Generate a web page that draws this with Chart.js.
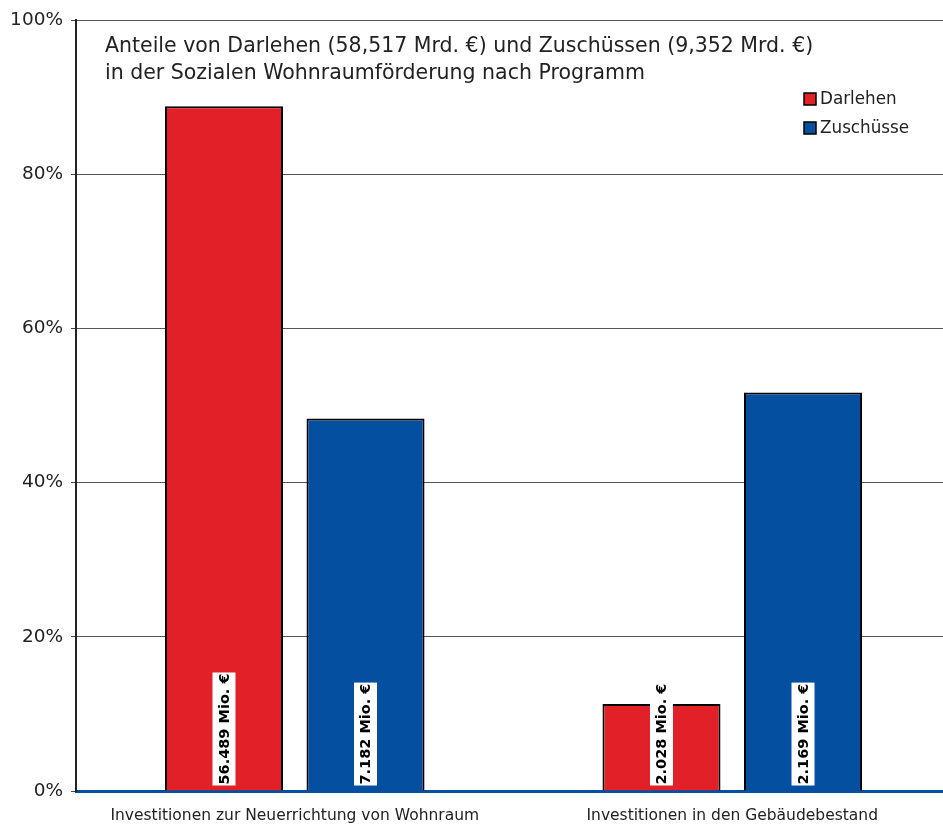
<!DOCTYPE html>
<html><head><meta charset="utf-8">
<script src="https://cdn.jsdelivr.net/npm/chart.js@4/dist/chart.umd.min.js"></script>
<style>
html,body{margin:0;padding:0;background:#fff;overflow:hidden;}
#wrap{width:951px;height:826px;position:relative;}
</style></head><body>
<div id="wrap"><canvas id="c" width="951" height="826"></canvas></div>
<script>
const categories = ["Investitionen zur Neuerrichtung von Wohnraum", "Investitionen in den Gebäudebestand"];
const darlehen = [88.8, 11.3];
const zuschuesse = [48.3, 51.7];
const darlehenLabels = ["56.489 Mio. €", "2.028 Mio. €"];
const zuschuesseLabels = ["7.182 Mio. €", "2.169 Mio. €"];
const titleLines = ["Anteile von Darlehen (58,517 Mrd. €) und Zuschüssen (9,352 Mrd. €)", "in der Sozialen Wohnraumförderung nach Programm"];
const yTicks = [0, 20, 40, 60, 80, 100];

const RED = '#e22027', BLUE = '#054fa1';
const FONT = '"DejaVu Sans", sans-serif';

const overlay = {
  id: 'overlay',
  afterDatasetsDraw(chart) {
    const ctx = chart.ctx;
    const labels = [darlehenLabels, zuschuesseLabels];
    chart.data.datasets.forEach((ds, di) => {
      const meta = chart.getDatasetMeta(di);
      meta.data.forEach((bar, i) => {
        const txt = labels[di][i];
        ctx.save();
        ctx.translate(bar.x, bar.base - 6);
        ctx.rotate(-Math.PI / 2);
        ctx.font = 'bold 14.5px ' + FONT;
        const w = ctx.measureText(txt).width;
        ctx.fillStyle = '#fff';
        ctx.fillRect(-1, -11.5, w + 2, 23);
        ctx.fillStyle = '#000';
        ctx.textAlign = 'left';
        ctx.textBaseline = 'middle';
        ctx.fillText(txt, 0, 1);
        ctx.restore();
      });
    });
  },
  afterDraw(chart) {
    const ctx = chart.ctx;
    ctx.save();
    ctx.fillStyle = '#222';
    ctx.font = '20.5px ' + FONT;
    ctx.textBaseline = 'middle';
    ctx.textAlign = 'left';
    ctx.fillText(titleLines[0], 105, 47);
    ctx.fillText(titleLines[1], 105, 74);
    // legend
    const items = [["Darlehen", RED, 99], ["Zuschüsse", BLUE, 128]];
    ctx.font = '16.8px ' + FONT;
    items.forEach(([t, c, y]) => {
      ctx.fillStyle = c;
      ctx.fillRect(804, y - 6, 12, 12);
      ctx.strokeStyle = '#000';
      ctx.lineWidth = 1.5;
      ctx.strokeRect(804, y - 6, 12, 12);
      ctx.fillStyle = '#222';
      ctx.fillText(t, 820, y + 1);
    });
    ctx.restore();
  }
};

new Chart(document.getElementById('c'), {
  type: 'bar',
  data: {
    labels: categories,
    datasets: [
      { label: 'Darlehen', data: darlehen, backgroundColor: RED, borderColor: '#000', borderWidth: 2, borderSkipped: 'bottom' },
      { label: 'Zuschüsse', data: zuschuesse, backgroundColor: BLUE, borderColor: '#000', borderWidth: 2, borderSkipped: 'bottom' }
    ]
  },
  options: {
    responsive: false,
    animation: false,
    events: [],
    layout: { padding: { top: 20, right: 0, bottom: 0, left: 0 } },
    datasets: { bar: { categoryPercentage: 0.647, barPercentage: 0.834 } },
    plugins: { legend: { display: false }, title: { display: false }, tooltip: { enabled: false } },
    scales: {
      x: {
        grid: { display: false, drawTicks: false },
        border: { display: true, color: BLUE, width: 3 },
        ticks: { color: '#222', font: { family: FONT, size: 15.5 }, padding: 16, maxRotation: 0 },
        afterFit(s) { s.height = 35; }
      },
      y: {
        min: 0, max: 100,
        afterBuildTicks(s) { s.ticks = yTicks.map(v => ({ value: v })); },
        grid: { color: '#555', lineWidth: 1, drawTicks: true, tickLength: 5, tickColor: '#444' },
        border: { display: true, color: '#222', width: 2 },
        ticks: { color: '#222', font: { family: FONT, size: 18.5 }, padding: 8, callback: v => v + '%' },
        afterFit(s) { s.width = 76; }
      }
    }
  },
  plugins: [overlay]
});
</script>
</body></html>
